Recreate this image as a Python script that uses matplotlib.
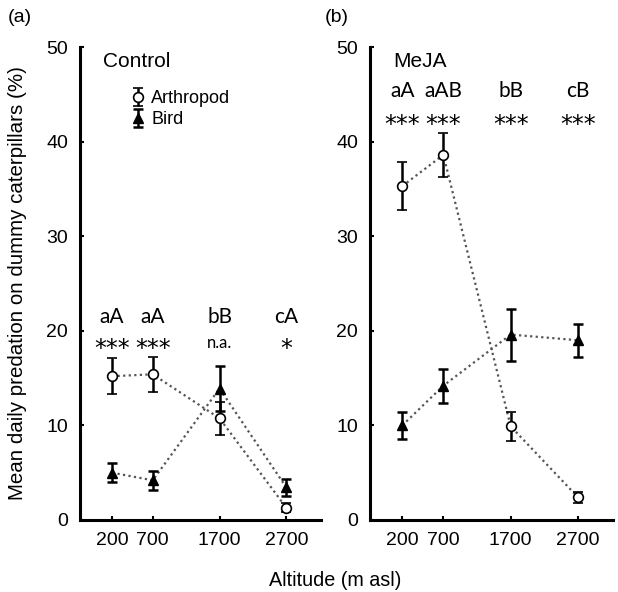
import matplotlib
matplotlib.use("Agg")
import matplotlib.pyplot as plt
import numpy as np

# altitude categories (m asl)
altitudes = ["200", "700", "1700", "2700"]

# panel (a) Control
ctrl_arthropod = [15.2, 15.4, 10.75, 1.3]
ctrl_arthropod_err = [1.9, 1.85, 1.75, 0.5]
ctrl_bird = [5.0, 4.2, 13.9, 3.45]
ctrl_bird_err = [1.0, 1.0, 2.4, 0.9]
ctrl_letters = ["aA", "aA", "bB", "cA"]
ctrl_signif = ["***", "***", "n.a.", "*"]

# panel (b) MeJA
meja_arthropod = [35.3, 38.6, 9.9, 2.4]
meja_arthropod_err = [2.5, 2.35, 1.5, 0.6]
meja_bird = [10.0, 14.2, 19.6, 19.0]
meja_bird_err = [1.45, 1.8, 2.75, 1.75]
meja_letters = ["aA", "aAB", "bB", "cB"]
meja_signif = ["***", "***", "***", "***"]

# categorical x scale with wider gap above 700 m
xpos = np.array([0.0, 0.61, 1.61, 2.61])

plt.rcParams["font.family"] = ["Liberation Sans", "DejaVu Sans"]


def draw_panel(ax, arth, arth_err, bird, bird_err, letters, signif, letter_y, star_y, title, legend):
    ax.plot(xpos, arth, linestyle=(0, (1, 1.5)), color="#555555", linewidth=1.6, zorder=1)
    ax.plot(xpos, bird, linestyle=(0, (1, 1.5)), color="#555555", linewidth=1.6, zorder=1)
    h1 = ax.errorbar(xpos, arth, yerr=arth_err, fmt="o", mfc="white", mec="black", ms=7,
                     mew=1.2, ecolor="black", elinewidth=1.8, capsize=3.5, capthick=1.8,
                     label="Arthropod", zorder=3)
    h2 = ax.errorbar(xpos, bird, yerr=bird_err, fmt="^", mfc="black", mec="black", ms=7,
                     ecolor="black", elinewidth=1.8, capsize=3.5, capthick=1.8,
                     label="Bird", zorder=3)
    for x, lab, sig in zip(xpos, letters, signif):
        ax.text(x, letter_y, lab, ha="center", va="center", fontsize=15, family="Lato")
        if sig == "n.a.":
            ax.text(x, star_y, sig, ha="center", va="center", fontsize=12, family="Lato")
        else:
            ax.text(x, star_y - 0.6, sig, ha="center", va="center",
                    fontsize=17, family="DejaVu Sans")
    ax.text(0.095, 0.97, title, transform=ax.transAxes, fontsize=15, va="center", ha="left")

    ax.set_xlim(-0.48, 3.13)
    ax.set_ylim(0, 50)
    ax.set_xticks(xpos)
    ax.set_xticklabels(altitudes)
    ax.set_yticks([0, 10, 20, 30, 40, 50])
    for side in ["top", "right"]:
        ax.spines[side].set_visible(False)
    for side in ["left", "bottom"]:
        ax.spines[side].set_linewidth(2.2)
    ax.tick_params(direction="in", length=3, width=1.5, labelsize=14, pad=8.5)
    if legend:
        ax.legend(handles=[h1, h2], loc="upper left", bbox_to_anchor=(0.16, 0.935),
                  frameon=False, fontsize=13, handlelength=0.8, handletextpad=0.3,
                  labelspacing=0.2, borderpad=0.2)


fig = plt.figure(figsize=(6.18, 5.92), dpi=100)
ax_a = fig.add_axes([80 / 618, 1 - 520 / 592, 241 / 618, 473 / 592])
ax_b = fig.add_axes([370 / 618, 1 - 520 / 592, 243 / 618, 473 / 592])

draw_panel(ax_a, ctrl_arthropod, ctrl_arthropod_err, ctrl_bird, ctrl_bird_err,
           ctrl_letters, ctrl_signif, 21.5, 18.7, "Control", True)
draw_panel(ax_b, meja_arthropod, meja_arthropod_err, meja_bird, meja_bird_err,
           meja_letters, meja_signif, 45.3, 42.4, "MeJA", False)

fig.text(8 / 618, 1 - 17 / 592, "(a)", fontsize=14, va="center", ha="left")
fig.text(325 / 618, 1 - 17 / 592, "(b)", fontsize=14, va="center", ha="left")
fig.text(18 / 618, 1 - 283 / 592, "Mean daily predation on dummy caterpillars (%)",
         rotation=90, fontsize=14.8, va="center", ha="center")
fig.text(335 / 618, 1 - 580 / 592, "Altitude (m asl)", fontsize=14.2, va="center", ha="center")

fig.savefig("out.png", dpi=100)
